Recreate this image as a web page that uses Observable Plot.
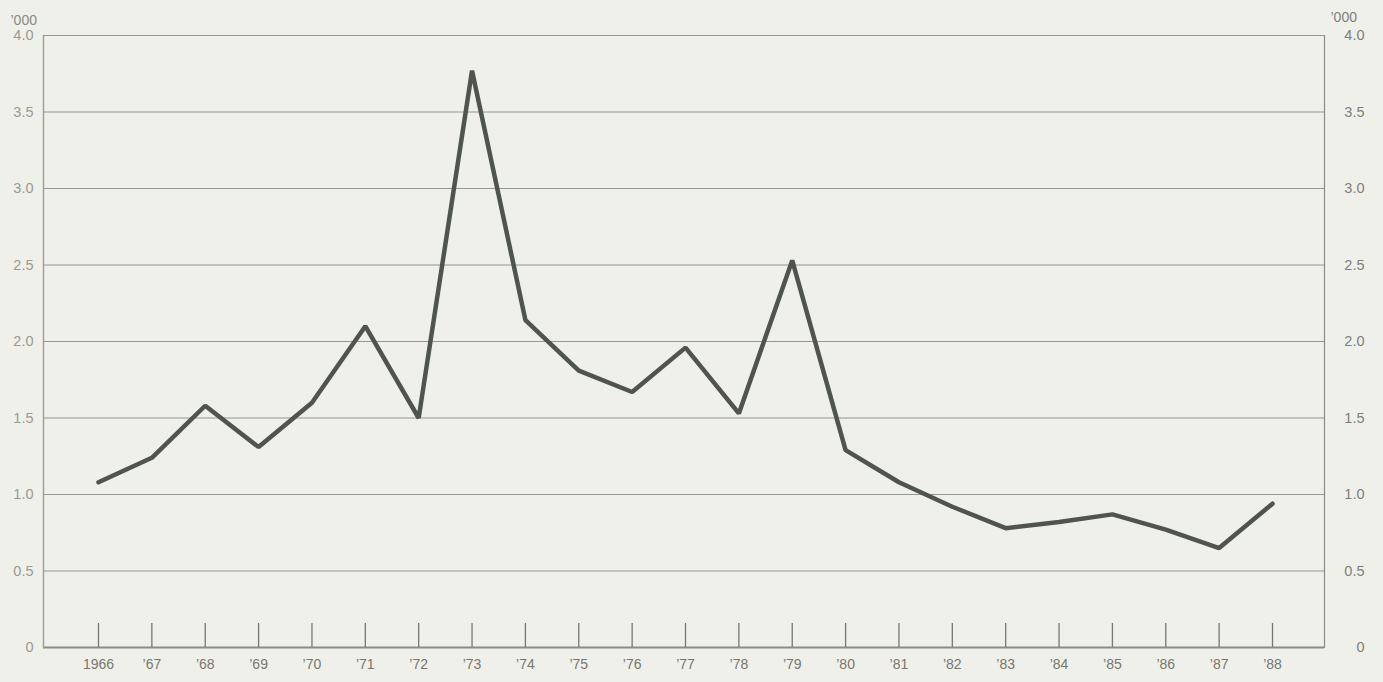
<!DOCTYPE html>
<html><head><meta charset="utf-8">
<script src="https://cdn.jsdelivr.net/npm/d3@7"></script>
<script src="https://cdn.jsdelivr.net/npm/@observablehq/plot@0.6"></script>
<style>
html,body{margin:0;padding:0;background:#f0f0eb;}
#chart svg{display:block;background:#f0f0eb;}
</style></head>
<body><div id="chart"></div>
<script>
const years = [1966,1967,1968,1969,1970,1971,1972,1973,1974,1975,1976,1977,1978,1979,1980,1981,1982,1983,1984,1985,1986,1987,1988];
const values = [1.08,1.24,1.58,1.31,1.60,2.10,1.50,3.77,2.14,1.81,1.67,1.96,1.53,2.53,1.29,1.08,0.92,0.78,0.82,0.87,0.77,0.65,0.94];
const yTicks = [0,0.5,1.0,1.5,2.0,2.5,3.0,3.5,4.0];
const yearLabels = ["1966","’67","’68","’69","’70","’71","’72","’73","’74","’75","’76","’77","’78","’79","’80","’81","’82","’83","’84","’85","’86","’87","’88"];
const unitLabel = "’000";

const data = years.map((y,i)=>({year:y, value:values[i]}));
const fmtY = d => d === 0 ? "0" : d.toFixed(1);

const chart = Plot.plot({
  width: 1383, height: 682,
  marginLeft: 43, marginRight: 59, marginTop: 35, marginBottom: 35,
  style: {background: "#f0f0eb", fontFamily: "Liberation Sans, Arial, sans-serif"},
  x: {type: "linear", domain: [1966, 1988], range: [98, 1272]},
  y: {domain: [0, 4]},
  marks: [
    Plot.ruleY(yTicks.filter(d => d > 0), {stroke: "#7d8275", strokeWidth: 1, strokeOpacity: 0.8}),
    Plot.ruleY([0], {stroke: "#8c8c84", strokeWidth: 2}),
    Plot.frame({anchor: "left", stroke: "#a0a098", strokeWidth: 1.5}),
    Plot.frame({anchor: "right", stroke: "#8c8c84", strokeWidth: 1.2}),
    Plot.ruleX(years, {x: d => d, y1: 0, y2: 0, insetTop: -24, stroke: "#77776f", strokeWidth: 1.3}),
    Plot.axisX(years, {tickSize: 0, tickPadding: 12, tickFormat: (d) => yearLabels[years.indexOf(d)], fill: "#77776f", fontSize: 14, label: null}),
    Plot.axisY(yTicks, {anchor: "left", tickSize: 0, tickPadding: 10, tickFormat: fmtY, fill: "#9a9a92", fontSize: 14.5, label: null}),
    Plot.axisY(yTicks, {anchor: "right", tickSize: 0, tickPadding: 40, textAnchor: "end", tickFormat: fmtY, fill: "#7f7f77", fontSize: 14.5, label: null}),
    Plot.text([unitLabel], {frameAnchor: "top-left", dx: -33, dy: -20, textAnchor: "start", fill: "#8a8a82", fontSize: 14}),
    Plot.text([unitLabel], {frameAnchor: "top-right", dx: 6, dy: -23, textAnchor: "start", fill: "#7f7f77", fontSize: 14}),
    Plot.line(data, {x: "year", y: "value", stroke: "#50554b", strokeWidth: 4.5, strokeLinejoin: "miter"})
  ]
});
document.getElementById("chart").appendChild(chart);
</script></body></html>
